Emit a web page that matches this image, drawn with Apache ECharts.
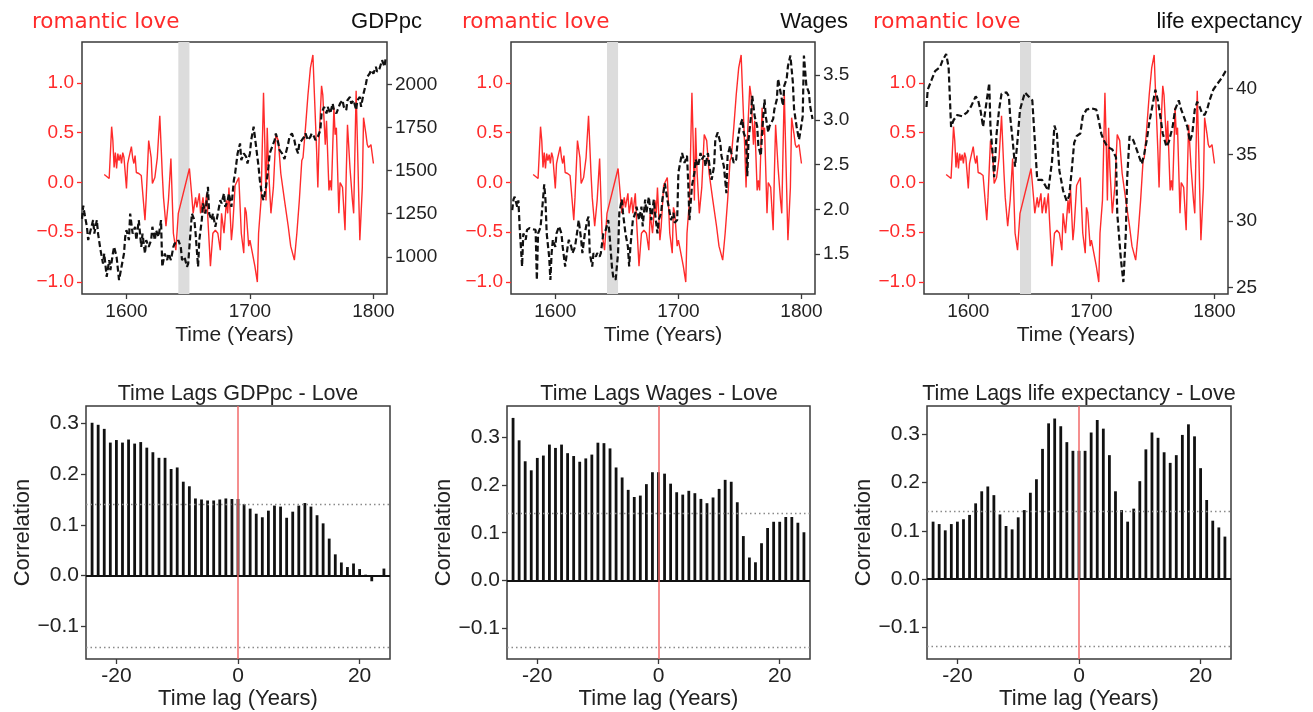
<!DOCTYPE html>
<html>
<head>
<meta charset="utf-8">
<title>Romantic love vs economy</title>
<script src="https://cdn.jsdelivr.net/npm/echarts@6/dist/echarts.min.js"></script>
<style>
  html, body { margin: 0; padding: 0; background: #fff; }
  #chart { width: 1313px; height: 712px; }
</style>
</head>
<body>
<div id="chart"></div>
<script>
// romantic love index (same series in the three top panels)
var loveYears = [1582, 1586, 1588, 1589, 1590, 1591, 1592, 1593, 1594, 1595, 1596, 1597, 1598, 1599, 1600,
  1601, 1602, 1604, 1605, 1606, 1607, 1608, 1610, 1612, 1615, 1616, 1618, 1620, 1621, 1623, 1625, 1627,
  1629, 1630, 1632, 1634, 1636, 1638, 1640, 1642, 1651, 1653, 1654, 1656, 1657, 1659, 1660, 1662, 1663,
  1665, 1666, 1668, 1670, 1672, 1674, 1676, 1677, 1679, 1681, 1682, 1683, 1685, 1686, 1688, 1689, 1691,
  1693, 1695, 1696, 1697, 1699, 1700, 1702, 1704, 1706, 1707, 1709, 1711, 1712, 1713, 1714, 1715, 1717,
  1718, 1719, 1721, 1722, 1723, 1725, 1728, 1731, 1733, 1736, 1738, 1740, 1742, 1743, 1745, 1747, 1749,
  1751, 1752, 1754, 1755, 1756, 1758, 1759, 1761, 1762, 1764, 1765, 1766, 1768, 1769, 1770, 1772, 1773,
  1775, 1777, 1778, 1779, 1781, 1783, 1784, 1786, 1787, 1789, 1791, 1792, 1794, 1795, 1796, 1798, 1800];
var loveValues = [0.08, 0.04, 0.56, 0.42, 0.15, 0.30, 0.14, 0.29, 0.22, 0.28, 0.19, 0.30, 0.25, 0.24, -0.06,
  0.19, 0.25, 0.36, 0.25, 0.19, 0.27, 0.10, 0.09, 0.07, -0.38, -0.15, 0.42, 0.25, -0.01, 0.05, 0.25, 0.67,
  0.09, -0.15, -0.44, -0.18, 0.24, -0.51, -0.68, -0.31, 0.14, -0.15, -0.31, -0.15, -0.25, -0.11, -0.31, -0.15, -0.31,
  -0.11, -0.38, -0.84, -0.51, -0.48, -0.51, -0.68, -0.31, -0.51, -0.18, -0.31, -0.05, -0.58, -0.45, -0.03, -0.05, 0.05,
  -0.51, -0.71, -0.25, -0.30, -0.64, -0.58, -0.71, -0.84, -1.0, -0.51, -0.18, 0.90, 0.42, -0.18, 0.55, 0.15, -0.31,
  -0.31, -0.05, 0.48, 0.45, 0.42, 0.09, -0.18, -0.44, -0.64, -0.78, -0.51, -0.18, 0.22, 0.25, 0.55, 0.88, 1.15,
  1.28, 0.95, 0.32, -0.05, 0.42, 0.97, 0.88, 0.38, 0.62, -0.08, 0.02, -0.08, 0.75, 0.48, 0.55, -0.31, 0.0,
  -0.05, -0.48, 0.09, 0.58, 0.15, -0.18, -0.31, 0.92, 0.42, -0.58, -0.05, 0.65, 0.48, 0.38, 0.35, 0.38, 0.19];

// GDP per capita
var gdpYears = [1564, 1565, 1566, 1568, 1569, 1571, 1573, 1574, 1576, 1577, 1579, 1581, 1582, 1584, 1586, 1587,
  1589, 1590, 1592, 1594, 1596, 1598, 1599, 1600, 1602, 1603, 1605, 1607, 1608, 1610, 1612, 1613, 1615, 1616,
  1618, 1620, 1621, 1623, 1624, 1626, 1628, 1629, 1631, 1633, 1634, 1636, 1638, 1639, 1641, 1642, 1644, 1645,
  1647, 1649, 1650, 1652, 1653, 1655, 1656, 1658, 1659, 1661, 1662, 1664, 1666, 1667, 1669, 1670, 1672, 1674,
  1676, 1677, 1679, 1680, 1682, 1683, 1685, 1687, 1688, 1690, 1692, 1693, 1695, 1697, 1698, 1700, 1701, 1703,
  1705, 1707, 1708, 1710, 1711, 1713, 1715, 1716, 1718, 1720, 1721, 1723, 1724, 1726, 1728, 1729, 1731, 1732,
  1734, 1736, 1737, 1739, 1740, 1742, 1744, 1745, 1747, 1749, 1750, 1752, 1753, 1755, 1757, 1758, 1760, 1762,
  1763, 1765, 1767, 1768, 1770, 1771, 1773, 1775, 1776, 1778, 1779, 1781, 1782, 1784, 1786, 1787, 1789, 1790,
  1792, 1794, 1795, 1797, 1798, 1800, 1802, 1803, 1805, 1807, 1809, 1810];
var gdpValues = [1220, 1297, 1251, 1174, 1097, 1155, 1213, 1135, 1213, 1135, 1039, 961, 1019, 884, 981, 923,
  1019, 1058, 1000, 865, 942, 1019, 1116, 1155, 1097, 1251, 1135, 1174, 1097, 1213, 1058, 1135, 1019, 1097,
  1058, 1097, 1174, 1097, 1155, 1116, 1213, 942, 1019, 981, 1019, 981, 1058, 1078, 1078, 1097, 1058, 981,
  1000, 942, 961, 1155, 1251, 1213, 1135, 942, 1097, 1213, 1310, 1251, 1406, 1251, 1213, 1251, 1174, 1251,
  1329, 1310, 1368, 1290, 1329, 1368, 1290, 1445, 1484, 1600, 1658, 1561, 1600, 1580, 1542, 1600, 1677, 1755,
  1639, 1522, 1445, 1348, 1329, 1406, 1522, 1600, 1639, 1677, 1716, 1658, 1619, 1600, 1567, 1600, 1658, 1697,
  1716, 1677, 1639, 1600, 1658, 1677, 1697, 1716, 1677, 1697, 1716, 1697, 1677, 1697, 1735, 1832, 1871, 1832,
  1871, 1832, 1890, 1852, 1832, 1852, 1890, 1909, 1871, 1852, 1909, 1928, 1890, 1909, 1852, 1909, 1928, 1871,
  1948, 2006, 2045, 2064, 2084, 2064, 2103, 2074, 2093, 2141, 2103, 2160];

// real wages
var wageYears = [1565, 1566, 1567, 1569, 1570, 1571, 1573, 1574, 1576, 1577, 1579, 1581, 1582, 1584, 1585, 1586,
  1588, 1589, 1590, 1591, 1592, 1593, 1595, 1596, 1597, 1598, 1600, 1601, 1603, 1605, 1606, 1608, 1610, 1611,
  1613, 1614, 1616, 1618, 1619, 1621, 1622, 1624, 1626, 1627, 1628, 1630, 1631, 1633, 1634, 1636, 1637, 1639,
  1641, 1643, 1644, 1646, 1647, 1649, 1651, 1652, 1654, 1655, 1657, 1659, 1660, 1661, 1663, 1665, 1666, 1668,
  1670, 1671, 1673, 1674, 1676, 1678, 1680, 1681, 1683, 1684, 1686, 1687, 1689, 1691, 1693, 1694, 1696, 1697,
  1699, 1700, 1702, 1703, 1705, 1707, 1708, 1709, 1711, 1713, 1714, 1716, 1718, 1719, 1721, 1722, 1724, 1726,
  1727, 1729, 1730, 1732, 1734, 1735, 1737, 1739, 1740, 1742, 1743, 1745, 1747, 1748, 1750, 1752, 1753, 1755,
  1756, 1757, 1759, 1760, 1762, 1764, 1765, 1767, 1768, 1770, 1771, 1773, 1774, 1777, 1778, 1780, 1781, 1783,
  1785, 1786, 1788, 1789, 1791, 1793, 1794, 1796, 1798, 1799, 1801, 1802, 1804, 1806, 1807, 1809];
var wageValues = [1.99, 2.11, 2.14, 2.03, 2.10, 1.81, 1.36, 1.73, 1.66, 1.77, 1.79, 1.78, 1.80, 1.77, 1.21, 1.73,
  1.80, 1.81, 2.11, 2.28, 2.11, 1.73, 1.47, 1.21, 1.51, 1.66, 1.58, 1.73, 1.81, 1.73, 1.58, 1.36, 1.58, 1.66,
  1.58, 1.51, 1.58, 1.77, 1.88, 1.66, 1.51, 1.73, 1.88, 1.92, 1.51, 1.36, 1.51, 1.47, 1.51, 1.47, 1.51, 1.73,
  1.77, 1.88, 1.73, 1.36, 1.25, 1.21, 1.51, 1.96, 2.11, 1.96, 1.73, 1.58, 1.36, 1.58, 1.88, 1.96, 2.03, 1.88,
  2.03, 1.81, 2.11, 1.96, 2.14, 1.88, 2.11, 1.96, 1.73, 1.88, 1.96, 2.11, 2.29, 2.11, 1.96, 1.88, 1.96, 1.85,
  1.88, 2.41, 2.56, 2.63, 2.52, 2.60, 2.30, 1.88, 2.26, 2.41, 2.56, 2.48, 2.63, 2.56, 2.60, 2.48, 2.63, 2.41,
  2.33, 2.48, 2.78, 2.86, 2.75, 2.60, 2.48, 2.18, 2.60, 2.71, 2.63, 2.52, 2.56, 2.75, 2.93, 3.01, 2.86, 2.78,
  2.37, 2.78, 3.04, 3.27, 3.04, 2.93, 2.71, 2.60, 2.86, 3.23, 3.04, 2.86, 2.93, 3.01, 3.12, 3.23, 3.46, 3.31,
  3.16, 3.38, 3.46, 3.60, 3.72, 3.42, 3.12, 2.93, 2.78, 2.86, 3.04, 3.72, 3.38, 3.31, 3.16, 3.01];

// life expectancy
var lifeYears = [1566, 1567, 1570, 1573, 1577, 1579, 1582, 1584, 1586, 1588, 1591, 1595, 1599, 1602, 1606, 1608,
  1610, 1612, 1613, 1615, 1617, 1618, 1620, 1621, 1623, 1625, 1627, 1631, 1633, 1634, 1636, 1638, 1640, 1642,
  1646, 1649, 1652, 1654, 1656, 1660, 1663, 1665, 1668, 1670, 1672, 1674, 1677, 1680, 1682, 1684, 1686, 1688,
  1691, 1693, 1696, 1700, 1704, 1706, 1708, 1710, 1713, 1715, 1717, 1720, 1721, 1724, 1726, 1728, 1729, 1731,
  1734, 1736, 1739, 1741, 1743, 1745, 1747, 1750, 1752, 1754, 1756, 1758, 1761, 1763, 1766, 1768, 1771, 1773,
  1775, 1778, 1780, 1782, 1784, 1786, 1788, 1790, 1792, 1794, 1796, 1799, 1802, 1806, 1809, 1810];
var lifeValues = [38.6, 39.9, 40.6, 41.3, 41.6, 42.1, 42.6, 41.6, 37.1, 37.6, 38.0, 37.9, 38.2, 38.6, 39.4, 39.1,
  38.3, 37.1, 37.8, 39.1, 40.4, 37.1, 34.8, 33.3, 36.6, 38.4, 39.6, 39.7, 39.4, 37.9, 36.1, 34.1, 36.1, 38.4,
  39.7, 39.4, 39.1, 36.1, 33.1, 33.1, 32.6, 32.3, 34.5, 37.2, 36.6, 33.8, 32.3, 31.5, 31.9, 33.8, 35.9, 36.4,
  36.6, 37.9, 38.4, 38.5, 38.4, 37.6, 36.6, 36.1, 35.6, 35.5, 35.4, 34.8, 30.6, 27.1, 25.4, 29.1, 33.1, 36.4,
  36.1, 35.6, 34.8, 34.3, 35.1, 36.1, 37.4, 38.9, 39.9, 39.1, 37.9, 36.6, 35.6, 36.0, 37.1, 38.4, 39.1, 38.4,
  37.9, 37.1, 36.0, 36.6, 38.4, 39.0, 38.6, 38.1, 38.0, 38.4, 39.1, 39.9, 40.3, 40.8, 41.3, 41.4];

// shaded period (English civil war)
var warStart = 1642;
var warEnd = 1651;

// cross-correlation by lag
var lags = [-24, -23, -22, -21, -20, -19, -18, -17, -16, -15, -14, -13, -12, -11, -10, -9, -8, -7, -6, -5, -4, -3, -2, -1,
  0, 1, 2, 3, 4, 5, 6, 7, 8, 9, 10, 11, 12, 13, 14, 15, 16, 17, 18, 19, 20, 21, 22, 23, 24];
var gdpCorr = [0.301, 0.297, 0.289, 0.262, 0.267, 0.262, 0.268, 0.260, 0.263, 0.252, 0.243, 0.232, 0.232, 0.210,
  0.213, 0.185, 0.176, 0.152, 0.150, 0.148, 0.148, 0.150, 0.152, 0.151, 0.151, 0.141, 0.132, 0.122, 0.115, 0.128,
  0.138, 0.136, 0.114, 0.126, 0.138, 0.143, 0.136, 0.119, 0.103, 0.073, 0.042, 0.026, 0.017, 0.024, 0.013, 0.002,
  -0.011, 0.001, 0.014];
var wageCorr = [0.341, 0.294, 0.250, 0.231, 0.257, 0.262, 0.285, 0.278, 0.285, 0.267, 0.261, 0.249, 0.256, 0.264,
  0.289, 0.288, 0.277, 0.237, 0.216, 0.190, 0.175, 0.178, 0.202, 0.227, 0.227, 0.224, 0.203, 0.185, 0.180, 0.188,
  0.183, 0.171, 0.162, 0.174, 0.192, 0.211, 0.207, 0.164, 0.093, 0.048, 0.038, 0.078, 0.110, 0.123, 0.123, 0.133,
  0.133, 0.121, 0.101];
var lifeCorr = [0.119, 0.114, 0.101, 0.114, 0.119, 0.124, 0.133, 0.157, 0.182, 0.192, 0.174, 0.134, 0.110, 0.103,
  0.128, 0.143, 0.179, 0.207, 0.270, 0.323, 0.333, 0.317, 0.284, 0.266, 0.266, 0.266, 0.304, 0.330, 0.312, 0.257,
  0.182, 0.143, 0.119, 0.146, 0.203, 0.269, 0.304, 0.293, 0.263, 0.241, 0.257, 0.299, 0.321, 0.296, 0.230, 0.164,
  0.121, 0.107, 0.088];
var confLevel = 0.141;

var yearTicks = [1600, 1700, 1800];
var loveTicks = [-1, -0.5, 0, 0.5, 1];
var lagTicks = [-20, 0, 20];
var corrTicks = [-0.1, 0, 0.1, 0.2, 0.3];

var RED = '#ff2b2b';
var INK = '#222';
var FRAME = '#3a3a3a';
var SANS = 'Liberation Sans, Arial, sans-serif';

function pairs(xs, ys) {
  return xs.map(function (x, i) { return [x, ys[i]]; });
}
function fmt1(v) {
  var s = Math.abs(v).toFixed(1);
  return v < -1e-9 ? '\u2212' + s : s;
}
function fmtInt(v) { return String(Math.round(v)); }
function fmtPlain(v) { return String(v); }

var grids = [
  {left: 82, top: 42, width: 305, height: 252},
  {left: 511, top: 42, width: 304, height: 252},
  {left: 924, top: 42, width: 304, height: 252},
  {left: 86, top: 406, width: 304, height: 253},
  {left: 507, top: 406, width: 303, height: 253},
  {left: 927, top: 406, width: 304, height: 253}
];
grids.forEach(function (g) {
  g.show = true;
  g.borderColor = FRAME;
  g.borderWidth = 1.5;
  g.backgroundColor = 'transparent';
});

var xAxes = [], yAxes = [], series = [];

function tick(values, color) {
  return {show: true, customValues: values, length: 5, lineStyle: {color: color, width: 1.3}};
}

function topPanel(g, econYears, econValues, rMin, rMax, rTicks, rFmt) {
  xAxes.push({
    gridIndex: g, type: 'value', min: 1564, max: 1811,
    axisLine: {show: false, onZero: false}, splitLine: {show: false},
    axisTick: tick(yearTicks, FRAME),
    axisLabel: {customValues: yearTicks, formatter: fmtPlain, fontSize: 19, color: INK, margin: 8, fontFamily: SANS},
    name: 'Time (Years)', nameLocation: 'middle', nameGap: 31,
    nameTextStyle: {fontSize: 21, color: INK, fontFamily: SANS}
  });
  var xi = xAxes.length - 1;
  yAxes.push({
    gridIndex: g, type: 'value', position: 'left', min: -1.12, max: 1.41,
    axisLine: {show: false, onZero: false}, splitLine: {show: false},
    axisTick: tick(loveTicks, RED),
    axisLabel: {customValues: loveTicks, formatter: fmt1, fontSize: 19, color: RED, margin: 8, fontFamily: SANS}
  });
  var li = yAxes.length - 1;
  yAxes.push({
    gridIndex: g, type: 'value', position: 'right', min: rMin, max: rMax,
    axisLine: {show: false, onZero: false}, splitLine: {show: false},
    axisTick: tick(rTicks, FRAME),
    axisLabel: {customValues: rTicks, formatter: rFmt, fontSize: 19, color: INK, margin: 8, fontFamily: SANS}
  });
  var ri = yAxes.length - 1;
  series.push({
    type: 'line', xAxisIndex: xi, yAxisIndex: li, data: pairs(loveYears, loveValues),
    symbol: 'none', z: 2, lineStyle: {color: RED, width: 1.4},
    markArea: {
      silent: true, itemStyle: {color: '#dcdcdc'},
      data: [[{xAxis: warStart}, {xAxis: warEnd}]]
    }
  });
  series.push({
    type: 'line', xAxisIndex: xi, yAxisIndex: ri, data: pairs(econYears, econValues),
    symbol: 'none', z: 3, lineStyle: {color: '#111', width: 2.2, type: [6, 3]}
  });
}

function lagPanel(g, corr, yMin, yMax) {
  xAxes.push({
    gridIndex: g, type: 'value', min: -25, max: 25,
    axisLine: {show: false, onZero: false}, splitLine: {show: false},
    axisTick: tick(lagTicks, FRAME),
    axisLabel: {customValues: lagTicks, formatter: fmtPlain,
      fontSize: 21, color: INK, margin: 7, fontFamily: SANS},
    name: 'Time lag (Years)', nameLocation: 'middle', nameGap: 28,
    nameTextStyle: {fontSize: 22, color: INK, fontFamily: SANS}
  });
  yAxes.push({
    gridIndex: g, type: 'value', min: yMin, max: yMax,
    axisLine: {show: false, onZero: false}, splitLine: {show: false},
    axisTick: tick(corrTicks, FRAME),
    axisLabel: {customValues: corrTicks, formatter: fmt1, fontSize: 21, color: INK, margin: 7, fontFamily: SANS},
    name: 'Correlation', nameLocation: 'middle', nameGap: 52, nameRotate: 90,
    nameTextStyle: {fontSize: 22, color: INK, fontFamily: SANS}
  });
  var dotted = {color: '#8a8a8a', width: 1.3, type: [1.5, 3]};
  series.push({
    type: 'bar', xAxisIndex: xAxes.length - 1, yAxisIndex: yAxes.length - 1,
    data: pairs(lags, corr), barWidth: 2.8, itemStyle: {color: '#111'},
    markLine: {
      silent: true, symbol: ['none', 'none'], label: {show: false},
      data: [
        {yAxis: confLevel, lineStyle: dotted},
        {yAxis: -confLevel, lineStyle: dotted},
        {yAxis: 0, lineStyle: {color: '#111', width: 2, type: 'solid'}},
        {xAxis: 0, lineStyle: {color: '#f26a6a', width: 1.5, type: 'solid'}}
      ]
    }
  });
}

topPanel(0, gdpYears, gdpValues, 784, 2247, [1000, 1250, 1500, 1750, 2000], fmtInt);
topPanel(1, wageYears, wageValues, 1.053, 3.872, [1.5, 2.0, 2.5, 3.0, 3.5], fmt1);
topPanel(2, lifeYears, lifeValues, 24.5, 43.5, [25, 30, 35, 40], fmtInt);
lagPanel(3, gdpCorr, -0.164, 0.334);
lagPanel(4, wageCorr, -0.165, 0.366);
lagPanel(5, lifeCorr, -0.166, 0.359);

function label(text, x, y, align, color, size, family) {
  return {
    type: 'text', x: x, y: y, silent: true,
    style: {text: text, fill: color, font: size + 'px ' + family, textAlign: align, textVerticalAlign: 'middle'}
  };
}

var chart = echarts.init(document.getElementById('chart'), null, {renderer: 'canvas'});
chart.setOption({
  backgroundColor: '#fff',
  animation: false,
  grid: grids,
  xAxis: xAxes,
  yAxis: yAxes,
  series: series,
  graphic: [
    label('romantic love', 32, 22, 'left', RED, 21.5, 'DejaVu Sans'),
    label('GDPpc', 422, 22, 'right', '#111', 22, SANS),
    label('romantic love', 462, 22, 'left', RED, 21.5, 'DejaVu Sans'),
    label('Wages', 848, 22, 'right', '#111', 22, SANS),
    label('romantic love', 873, 22, 'left', RED, 21.5, 'DejaVu Sans'),
    label('life expectancy', 1302, 22, 'right', '#111', 22, SANS),
    label('Time Lags GDPpc - Love', 238, 394, 'center', INK, 21.5, SANS),
    label('Time Lags Wages - Love', 659, 394, 'center', INK, 21.5, SANS),
    label('Time Lags life expectancy - Love', 1079, 394, 'center', INK, 21.5, SANS)
  ]
});
</script>
</body>
</html>
